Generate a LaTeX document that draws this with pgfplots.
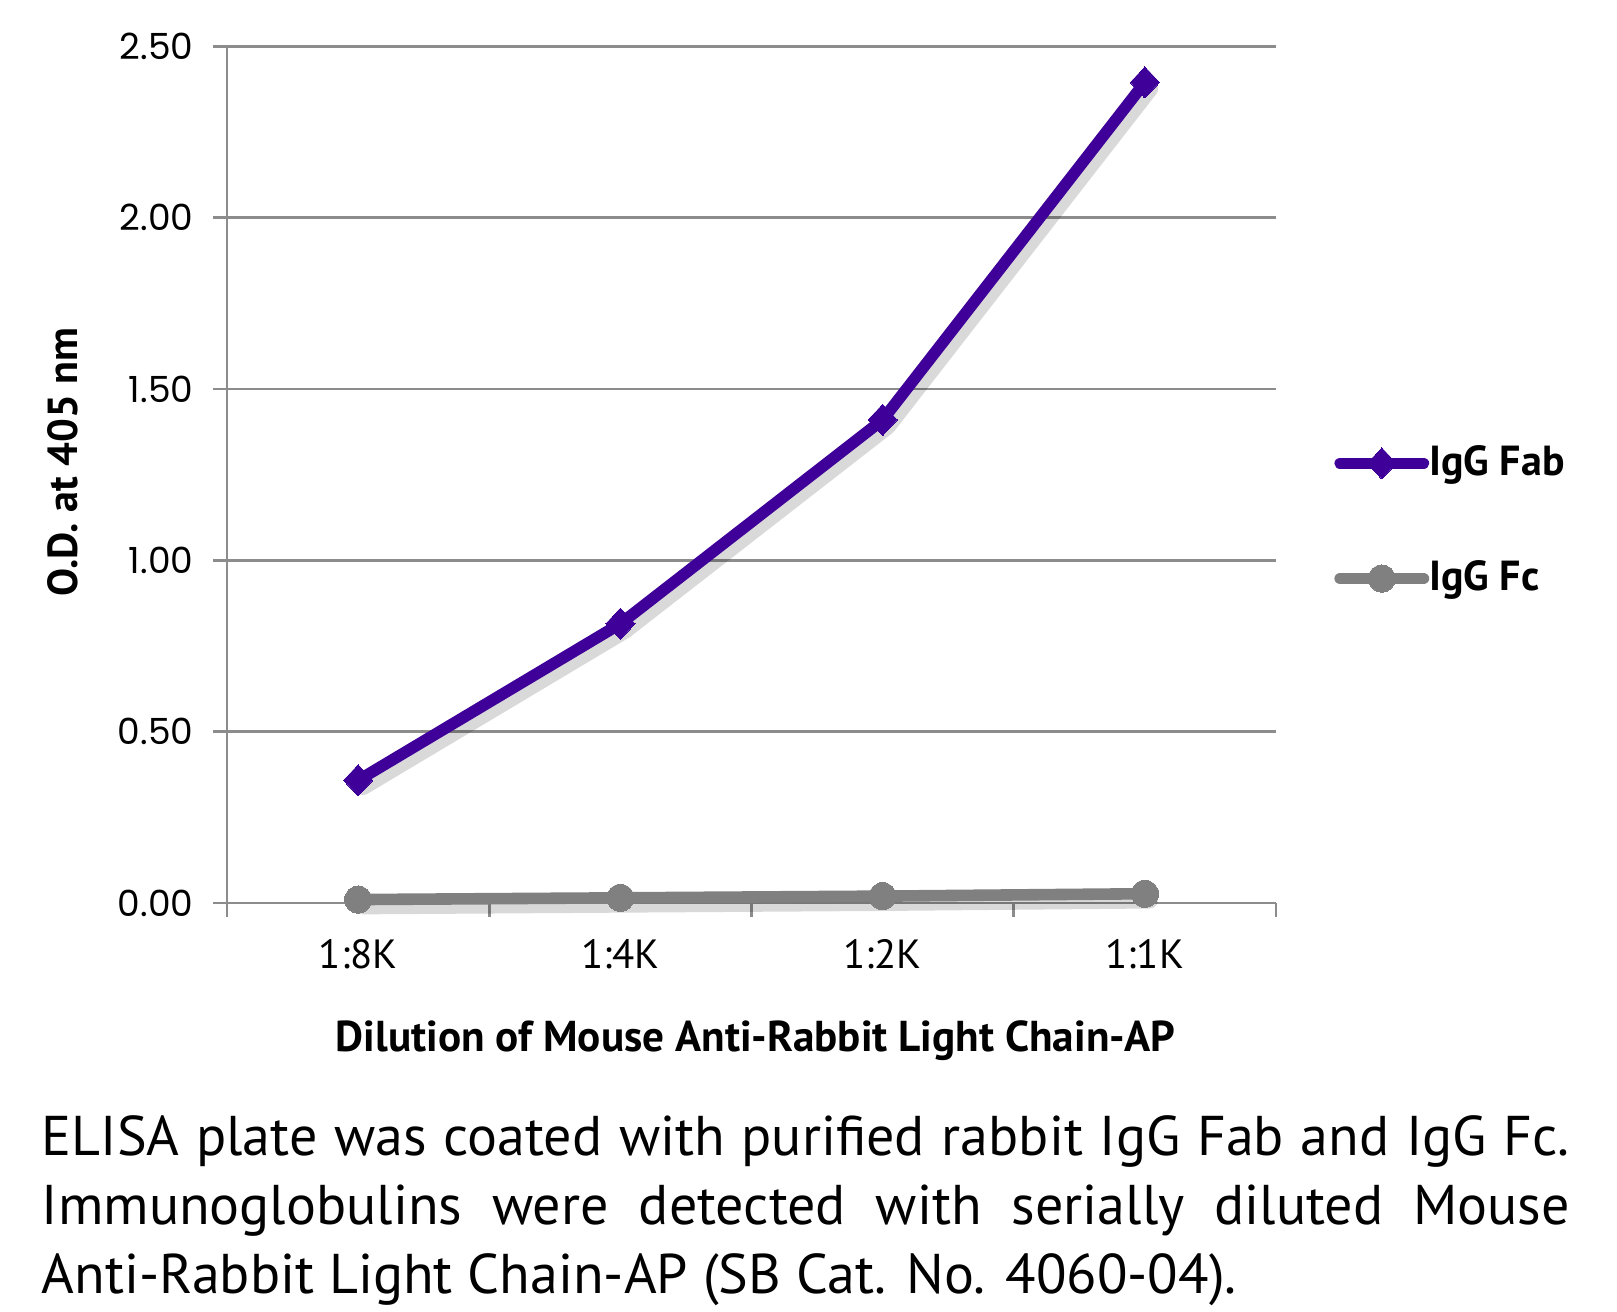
\documentclass[border=0pt]{standalone}
\usepackage{fontspec}
\setmainfont{PT Sans}
\newfontfamily\tickfont{Poppins}
\usepackage{pgfplots}
\pgfplotsset{compat=1.18}
\definecolor{fab}{HTML}{3F0099}
\definecolor{fc}{HTML}{808080}
\definecolor{gridgray}{HTML}{8C8C8C}

\begin{document}
\begin{tikzpicture}
\begin{axis}[
  at={(0,0)}, anchor=south west,
  scale only axis, width=262.25pt, height=214.15pt,
  xmin=-0.5, xmax=3.5, ymin=0, ymax=2.5,
  axis lines=left,
  axis line style={-, draw=gridgray, line width=0.65pt},
  xtick={-0.5,0.5,1.5,2.5,3.5}, xticklabels={},
  extra x ticks={0,1,2,3},
  extra x tick labels={1:8K,1:4K,1:2K,1:1K},
  extra x tick style={major tick length=0pt,
    xticklabel style={anchor=base, yshift=-16.5pt, font=\fontsize{10.2}{12}\selectfont}},
  ytick={0,0.5,...,2.5},
  tick align=outside, major tick length=3.4pt,
  tick style={draw=gridgray, line width=0.65pt},
  ymajorgrids, grid style={draw=gridgray, line width=0.65pt},
  yticklabel style={/pgf/number format/.cd, fixed, fixed zerofill, precision=2,
    assume math mode=true, /tikz/.cd, font=\tickfont\fontsize{9}{10}\selectfont, xshift=-1.5pt},
  xlabel={Dilution of Mouse Anti-Rabbit Light Chain-AP},
  xlabel style={at={(axis description cs:0.5,-0.1739)}, anchor=base, xshift=1pt,
    font=\bfseries\fontsize{10.8}{12}\selectfont},
  ylabel={O.D. at 405 nm},
  ylabel style={at={(axis description cs:-0.1421,0.5145)}, anchor=base,
    font=\bfseries\fontsize{10.5}{12}\selectfont},
  legend style={at={(1,0.446)}, anchor=west, xshift=14.4pt, draw=none, fill=none,
    inner sep=0pt, row sep=15.8pt, font=\bfseries\fontsize{10.5}{12}\selectfont,
    nodes={inner xsep=0pt}},
  legend cell align=left,
  legend image code/.code={\draw[mark repeat=2, mark phase=2, #1]
    plot coordinates {(0pt,0pt) (10.4pt,0pt) (20.8pt,0pt)};},
  clip=false,
]
% soft shadows
\addplot[forget plot, black, opacity=0.15, line width=4.2pt, line join=round, line cap=round,
  xshift=1.2pt, yshift=-1.6pt]
  coordinates {(0,0.358) (1,0.815) (2,1.41) (3,2.395)};
\addplot[forget plot, black, opacity=0.15, line width=4.2pt, line join=round, line cap=round,
  xshift=1.2pt, yshift=-1.6pt]
  coordinates {(0,0.010) (1,0.015) (2,0.020) (3,0.027)};
% series
\addplot[fab, line width=2.9pt, line join=round, line cap=round,
  mark=diamond*, mark size=3.9pt, mark options={solid, line width=0pt, xscale=1.25}]
  coordinates {(0,0.358) (1,0.815) (2,1.41) (3,2.395)};
\addlegendentry{IgG Fab}
\addplot[fc, line width=2.9pt, line join=round, line cap=round,
  mark=*, mark size=3.4pt, mark options={solid, line width=0pt}]
  coordinates {(0,0.010) (1,0.015) (2,0.020) (3,0.027)};
\addlegendentry{IgG Fc}
\end{axis}
\node[anchor=north west, inner sep=0pt, text width=382pt, align=justify,
  font=\fontsize{14}{17.25}\selectfont] at (-46.5pt,-53pt)
  {ELISA plate was coated with purified rabbit IgG Fab and IgG Fc.\linebreak
   Immunoglobulins were detected with serially diluted Mouse\linebreak
   Anti-Rabbit Light Chain-AP (SB Cat. No. 4060-04).};
\pgfresetboundingbox
\path[use as bounding box] (-56.75pt,-102.25pt) rectangle (347.5pt,225.75pt);
\end{tikzpicture}
\end{document}
